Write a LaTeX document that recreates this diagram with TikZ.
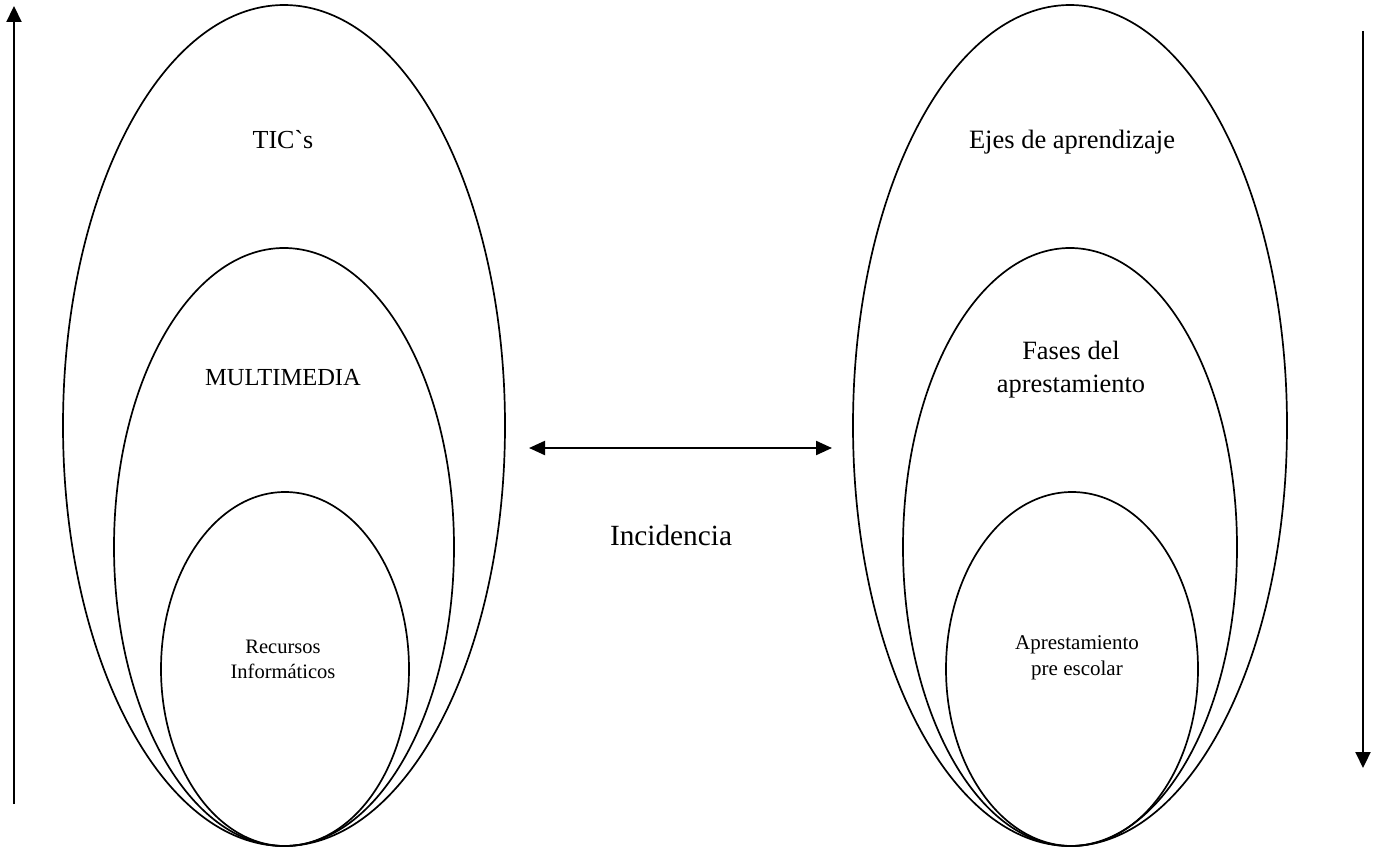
\documentclass[tikz,border=0pt]{standalone}
\usepackage{fontspec}
\newfontfamily\diagfont{Liberation Serif}
\usetikzlibrary{arrows.meta}
\begin{document}
\begin{tikzpicture}[x=1pt,y=-1pt,
  ring/.style={line width=1.7pt},
  axis/.style={line width=2.2pt,-{Triangle[length=16pt,width=15pt]}},
  link/.style={line width=2.2pt,{Triangle[length=16pt,width=14pt]}-{Triangle[length=16pt,width=14pt]}},
  lbl/.style={inner sep=0pt,align=center,font=\diagfont}]
\useasboundingbox (0,0) rectangle (1379,848);

% left group of nested ellipses
\draw[ring] (284,425.5) ellipse [x radius=221, y radius=420.5];
\draw[ring] (284,547)   ellipse [x radius=170, y radius=299];
\draw[ring] (285,669)   ellipse [x radius=124, y radius=177];

% right group of nested ellipses
\draw[ring] (1070,425.5) ellipse [x radius=217, y radius=420.5];
\draw[ring] (1070,547)   ellipse [x radius=167, y radius=299];
\draw[ring] (1072,669)   ellipse [x radius=126, y radius=177];

% labels
\node[lbl,anchor=base,font=\diagfont\fontsize{26}{31}\selectfont] (tics) at (283,149) {TIC`s};
\node[lbl,anchor=base,font=\diagfont\fontsize{24.5}{30}\selectfont] (multi) at (283,385) {MULTIMEDIA};
\node[lbl,font=\diagfont\fontsize{20.5}{25.7}\selectfont] (recursos) at (283,659.5) {Recursos\\Informáticos};
\node[lbl,anchor=base,font=\diagfont\fontsize{26.5}{32}\selectfont] (ejes) at (1072,149) {Ejes de aprendizaje};
\node[lbl,font=\diagfont\fontsize{26.4}{33}\selectfont] (fases) at (1071,369.5) {Fases del\\aprestamiento};
\node[lbl,font=\diagfont\fontsize{21}{26}\selectfont] (apre) at (1077,658) {Aprestamiento\\pre escolar};
\node[lbl,anchor=base,font=\diagfont\fontsize{29.3}{35}\selectfont] (inc) at (671,545) {Incidencia};

% arrows
\coordinate (upA) at (14,804);
\coordinate (upB) at (14,6);
\coordinate (dnA) at (1363,31);
\coordinate (dnB) at (1363,768);
\coordinate (hA) at (529,448);
\coordinate (hB) at (832,448);
\draw[axis] (upA) -- (upB);
\draw[axis] (dnA) -- (dnB);
\draw[link] (hA) -- (hB);
\end{tikzpicture}
\end{document}
